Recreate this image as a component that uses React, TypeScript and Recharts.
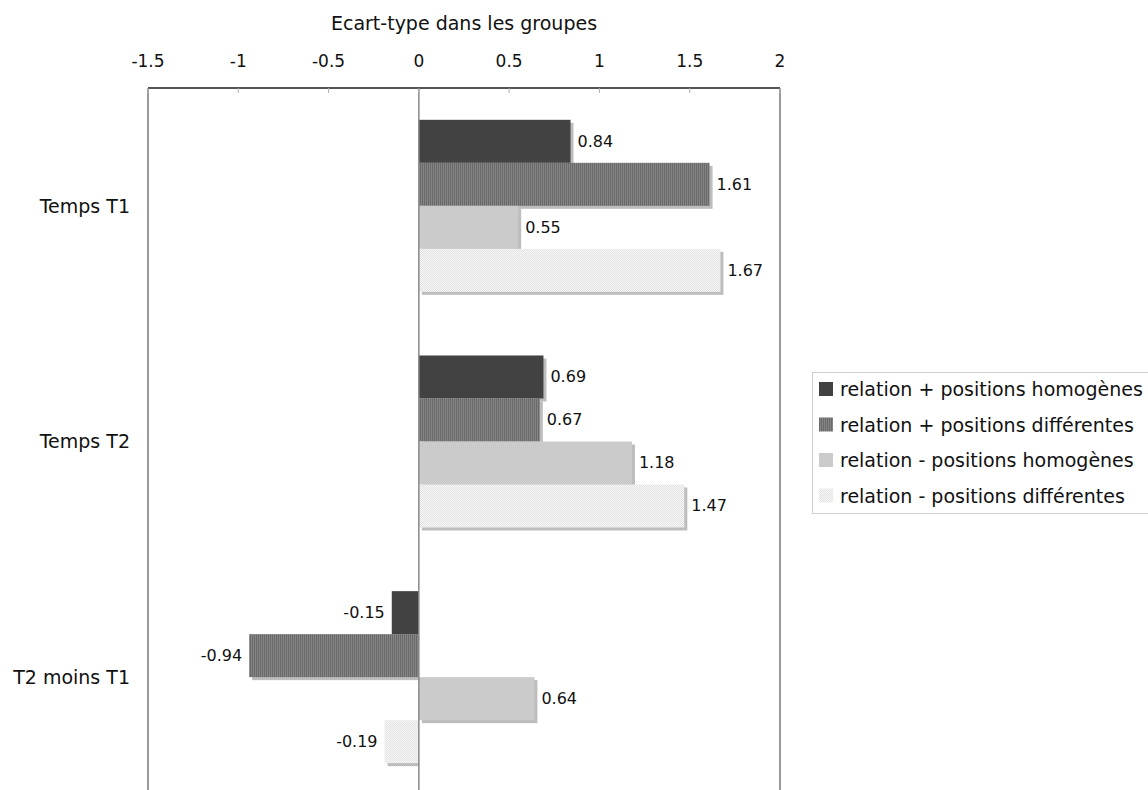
import { BarChart, Bar, XAxis, YAxis, ReferenceLine, LabelList } from 'recharts';

// Standard deviation within groups, per time point
const categories = ['Temps T1', 'Temps T2', 'T2 moins T1'];
const relPlusHomog = [0.84, 0.69, -0.15];
const relPlusDiff = [1.61, 0.67, -0.94];
const relMinusHomog = [0.55, 1.18, 0.64];
const relMinusDiff = [1.67, 1.47, -0.19];

const seriesNames = [
    'relation + positions homogènes',
    'relation + positions différentes',
    'relation - positions homogènes',
    'relation - positions différentes',
];
const xTicks = [-1.5, -1, -0.5, 0, 0.5, 1, 1.5, 2];

const FONT = '"DejaVu Sans", Verdana, sans-serif';
const FILLS = ['#424242', 'url(#stripes)', '#cbcbcb', 'url(#dots)'];
const LEGEND_FILLS = ['#424242', 'url(#lg-stripes)', '#cbcbcb', 'url(#lg-dots)'];
const KEYS = ['rph', 'rpd', 'rmh', 'rmd'];

const data = categories.map((name, i) => ({
    name,
    rph: relPlusHomog[i],
    rpd: relPlusDiff[i],
    rmh: relMinusHomog[i],
    rmd: relMinusDiff[i],
}));

function Patterns({ prefix }: { prefix: string }) {
    return (
        <defs>
            <pattern id={`${prefix}stripes`} width="2" height="2" patternUnits="userSpaceOnUse">
                <rect width="2" height="2" fill="#848484" />
                <rect width="1" height="2" fill="#6a6a6a" />
            </pattern>
            <pattern id={`${prefix}dots`} width="2" height="2" patternUnits="userSpaceOnUse">
                <rect width="2" height="2" fill="#f7f7f7" />
                <rect width="1" height="1" fill="#e2e2e2" />
                <rect x="1" y="1" width="1" height="1" fill="#e2e2e2" />
            </pattern>
        </defs>
    );
}

// bar with a soft grey drop shadow, works for negative widths too
function ShadowBar(props: any) {
    const { x, y, width, height, fill } = props;
    if (width == null || height == null) return null;
    const neg = width < 0;
    const x0 = neg ? x + width : x;
    const w = Math.abs(width);
    return (
        <g>
            <rect x={x0 + 3} y={y + 3} width={neg ? Math.max(w - 3, 0) : w} height={height} fill="#bdbdbd" />
            <rect x={x0} y={y} width={w} height={height} fill={fill} />
        </g>
    );
}

function ValueLabel(props: any) {
    const { x, y, width, height, value } = props;
    const neg = value < 0;
    const tx = neg ? x + width - 7 : x + width + 7;
    return (
        <text
            x={tx}
            y={y + height / 2}
            textAnchor={neg ? 'end' : 'start'}
            dominantBaseline="central"
            fontSize={16}
            fontFamily={FONT}
            fill="#111"
        >
            {value}
        </text>
    );
}

function TopTick(props: any) {
    const { x, y, payload } = props;
    return (
        <g>
            <line x1={x} x2={x} y1={y + 18} y2={y + 23} stroke="#b0b0b0" />
            <text x={x} y={y - 3} textAnchor="middle" fontSize={17} fontFamily={FONT} fill="#111">
                {payload.value}
            </text>
        </g>
    );
}

function ChartLegend() {
    return (
        <div
            style={{
                position: 'absolute',
                left: 812,
                top: 372,
                width: 360,
                height: 140,
                border: '1px solid #cfcfcf',
                borderRight: 'none',
                background: '#fff',
            }}
        >
            <svg width={360} height={140} style={{ position: 'absolute', left: 0, top: 0 }}>
                <Patterns prefix="lg-" />
                {seriesNames.map((name, i) => {
                    const cy = 16 + i * 35.5;
                    return (
                        <g key={name}>
                            <rect x={6} y={cy - 7} width={14} height={14} fill={LEGEND_FILLS[i]} />
                            <text
                                x={27}
                                y={cy}
                                dominantBaseline="central"
                                fontSize={19}
                                fontFamily={FONT}
                                fill="#111"
                            >
                                {name}
                            </text>
                        </g>
                    );
                })}
            </svg>
        </div>
    );
}

export default function App() {
    return (
        <div
            style={{
                position: 'absolute',
                left: 0,
                top: 0,
                width: 1148,
                height: 790,
                overflow: 'hidden',
                background: '#fff',
                fontFamily: FONT,
            }}
        >
            <BarChart
                layout="vertical"
                width={1148}
                height={800}
                data={data}
                margin={{ top: 40, right: 368, left: 0, bottom: 5 }}
                barCategoryGap="13.5%"
                barGap={0}
            >
                <Patterns prefix="" />
                <XAxis
                    type="number"
                    orientation="top"
                    domain={[-1.5, 2]}
                    ticks={xTicks}
                    height={48}
                    tickSize={6}
                    tickMargin={12}
                    tickLine={false}
                    tick={<TopTick />}
                    axisLine={{ stroke: '#555', strokeWidth: 2 }}
                    label={{
                        value: 'Ecart-type dans les groupes',
                        position: 'top',
                        offset: 10,
                        fontSize: 19,
                        fontFamily: FONT,
                        fill: '#111',
                    }}
                />
                <YAxis
                    type="category"
                    dataKey="name"
                    width={148}
                    axisLine={false}
                    tickLine={false}
                    tickSize={0}
                    tickMargin={18}
                    tick={{ fontSize: 19, fill: '#111', fontFamily: FONT }}
                />
                <ReferenceLine x={-1.5} stroke="#9a9a9a" strokeWidth={2} />
                <ReferenceLine x={2} stroke="#9a9a9a" strokeWidth={2} />
                <ReferenceLine x={0} stroke="#888" strokeWidth={1.5} />
                {KEYS.map((k, i) => (
                    <Bar
                        key={k}
                        dataKey={k}
                        name={seriesNames[i]}
                        fill={FILLS[i]}
                        shape={<ShadowBar />}
                        isAnimationActive={false}
                    >
                        <LabelList dataKey={k} content={<ValueLabel />} />
                    </Bar>
                ))}
            </BarChart>
            <ChartLegend />
        </div>
    );
}
